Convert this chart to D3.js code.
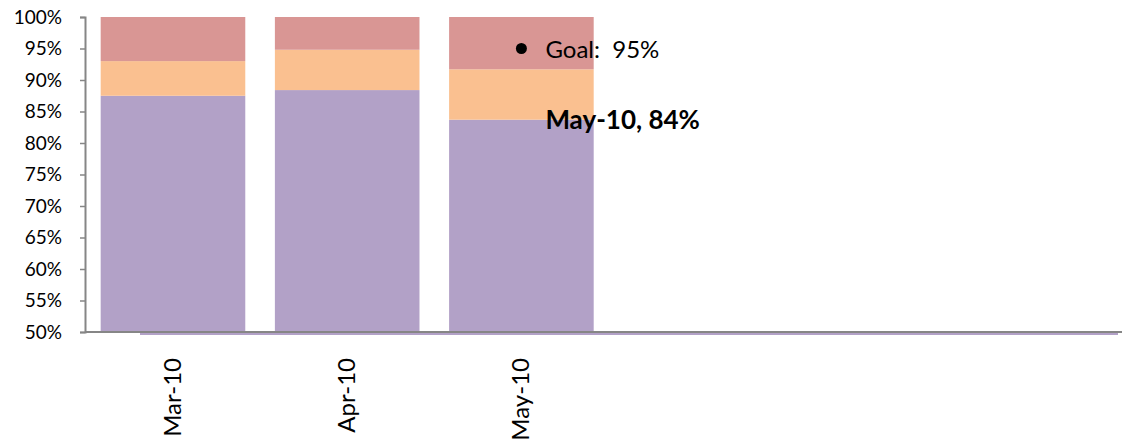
<!DOCTYPE html>
<html>
<head>
<meta charset="utf-8">
<script src="https://cdn.jsdelivr.net/npm/d3@7"></script>
<style>
    body { margin: 0; background: #fff; }
    text { font-family: Lato, "Open Sans", sans-serif; fill: #000; }
</style>
</head>
<body>
<div id="chart"></div>
<script>
// months on the x axis (only the first three have data)
var months = ["Mar-10", "Apr-10", "May-10", "Jun-10", "Jul-10", "Aug-10"];
var dataMonths = ["Mar-10", "Apr-10", "May-10"];

// stacked segments
var actual = [0.875, 0.884, 0.837];
var middle = [0.055, 0.064, 0.080];
var rest = [0.070, 0.052, 0.083];

var goalValue = 0.95;
var yTicks = [0.5, 0.55, 0.6, 0.65, 0.7, 0.75, 0.8, 0.85, 0.9, 0.95, 1.0];

var colors = {actual: "#B2A1C7", middle: "#FAC090", rest: "#D99694"};

var outerWidth = 1122,
    outerHeight = 442;

var margin = {top: 17, left: 85, bottom: 110};
var plotBottom = outerHeight - margin.bottom;

var svg = d3.select("#chart")
    .append("svg")
    .attr("width", outerWidth)
    .attr("height", outerHeight);

// scales
var x = d3.scaleBand()
    .domain(months)
    .range([margin.left, 1132])
    .paddingInner(0.17)
    .paddingOuter(0.09);

var y = d3.scaleLinear()
    .domain([0.5, 1])
    .range([plotBottom, margin.top])
    .clamp(true);

// build stack table
var table = dataMonths.map(function(m, i) {
    return {month: m, actual: actual[i], middle: middle[i], rest: rest[i]};
});
var stack = d3.stack().keys(["actual", "middle", "rest"]);
var series = stack(table);

svg.append("g")
    .selectAll("g")
    .data(series)
    .enter().append("g")
    .attr("fill", function(d) { return colors[d.key]; })
    .selectAll("rect")
    .data(function(d) { return d; })
    .enter().append("rect")
    .attr("x", function(d) { return x(d.data.month); })
    .attr("width", x.bandwidth())
    .attr("y", function(d) { return y(d[1]); })
    .attr("height", function(d) { return y(d[0]) - y(d[1]); });

// thin purple strip below the x axis
svg.append("rect")
    .attr("x", 140)
    .attr("y", plotBottom + 1)
    .attr("width", 978)
    .attr("height", 2)
    .attr("fill", colors.actual);

// y axis
var yAxis = d3.axisLeft(y)
    .tickValues(yTicks)
    .tickSize(5)
    .tickPadding(18)
    .tickFormat(d3.format(".0%"));

var gy = svg.append("g")
    .attr("transform", "translate(" + margin.left + ",0)")
    .call(yAxis);
gy.select(".domain").attr("stroke", "#868686").attr("stroke-width", 2);
gy.selectAll(".tick line").attr("stroke", "#868686").attr("stroke-width", 1.5);
gy.selectAll(".tick text").style("font-size", "19px");

// x axis
svg.append("line")
    .attr("x1", margin.left)
    .attr("x2", outerWidth)
    .attr("y1", plotBottom)
    .attr("y2", plotBottom)
    .attr("stroke", "#868686")
    .attr("stroke-width", 2);

svg.append("g")
    .selectAll("text")
    .data(dataMonths)
    .enter().append("text")
    .attr("transform", function(d) {
        return "translate(" + (x(d) + x.bandwidth() / 2 + 8) + "," + (plotBottom + 26) + ") rotate(-90)";
    })
    .style("text-anchor", "end")
    .style("font-size", "24px")
    .text(function(d) { return d; });

// goal marker on the last month
var last = dataMonths.length - 1;
var cx = x(dataMonths[last]) + x.bandwidth() / 2;

svg.append("circle")
    .attr("cx", cx)
    .attr("cy", y(goalValue))
    .attr("r", 5.5)
    .attr("fill", "#000");

svg.append("text")
    .attr("x", cx + 24)
    .attr("y", y(goalValue) + 9)
    .style("font-size", "24px")
    .attr("xml:space", "preserve")
    .text("Goal:  " + d3.format(".0%")(goalValue));

// data label for the last month
svg.append("text")
    .attr("x", cx + 24)
    .attr("y", y(actual[last]) + 9)
    .style("font-size", "26px")
    .style("font-weight", "bold")
    .text(dataMonths[last] + ", " + d3.format(".0%")(actual[last]));
</script>
</body>
</html>
